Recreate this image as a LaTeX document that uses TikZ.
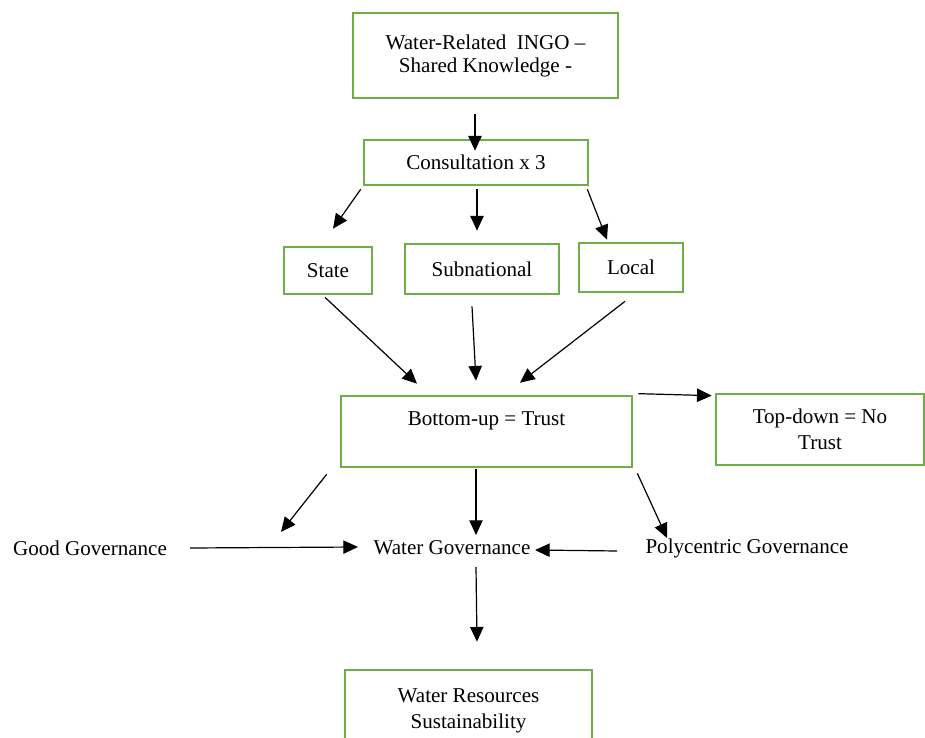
\documentclass[tikz,border=0pt]{standalone}
\usepackage{fontspec}
\setmainfont{Liberation Serif}
\usetikzlibrary{arrows.meta}
\begin{document}
\begin{tikzpicture}[x=0.75pt,y=-0.75pt,
  box/.style={draw=boxgreen,line width=2pt,align=center,inner sep=0pt,font=\fontsize{15.8pt}{19.5pt}\selectfont},
  plain/.style={align=center,inner sep=0pt,font=\fontsize{15.8pt}{19.5pt}\selectfont},
  arr/.style={line width=0.9pt,-{Triangle[length=11pt,width=10pt]}}]
\definecolor{boxgreen}{HTML}{70AD47}
\useasboundingbox (0,0) rectangle (925,738);

% boxes
\node[box,minimum width=198.75pt,minimum height=63.75pt] (top) at (485.5,55.5)
  {\raisebox{3pt}{\begin{tabular}{@{}c@{}}Water-Related\ \ INGO –\\[-2pt]Shared Knowledge -\end{tabular}}};
\node[box,minimum width=168pt,minimum height=33.75pt] (cons) at (476,162.5) {Consultation x 3};
\node[box,minimum width=66pt,minimum height=35.25pt] (state) at (328,270.5) {State};
\node[box,minimum width=115.5pt,minimum height=37.5pt] (sub) at (482,269) {Subnational};
\node[box,minimum width=78pt,minimum height=36.75pt] (local) at (631,267.5) {Local};
\node[box,minimum width=218.25pt,minimum height=53.25pt] (bu) at (486.5,431.5) {Bottom-up = Trust\\[0pt]\mbox{}};
\node[box,minimum width=156pt,minimum height=53.25pt] (td) at (820,429.5) {Top-down = No\\Trust};
\node[plain] (gg) at (90,548) {Good Governance};
\node[plain] (wg) at (452,548) {Water Governance};
\node[plain] (pg) at (747,548) {Polycentric Governance};
\node[box,minimum width=185.25pt,minimum height=61.5pt] (wrs) at (468.5,711) {Water Resources\\Sustainability};

% connectors
\draw[arr] ([shift={(-10.5,15)}]top.south) -- ([shift={(-1,12)}]cons.north);
\draw[arr] ([shift={(-2,3)}]cons.south west) -- ([shift={(5,-17)}]state.north);
\draw[arr] ([shift={(1,3)}]cons.south) -- ([shift={(-5,-12)}]sub.north);
\draw[arr] ([shift={(-2,3)}]cons.south east) -- ([shift={(-24,-2)}]local.north);
\draw[arr] ([shift={(-3,2)}]state.south) -- ([shift={(-69.5,-11)}]bu.north);
\draw[arr] ([shift={(-10,11)}]sub.south) -- ([shift={(-10.5,-14)}]bu.north);
\draw[arr] ([shift={(-6,8)}]local.south) -- ([shift={(33.5,-12)}]bu.north);
\draw[arr] ([shift={(5,-1)}]bu.north east) -- ([shift={(-3,3)}]td.north west);
\draw[arr] ([shift={(-13,6)}]bu.south west) -- ([shift={(191,-16)}]gg.center);
\draw[arr] ([shift={(-10.5,1)}]bu.south) -- ([shift={(24,-13)}]wg.center);
\draw[arr] ([shift={(4,5)}]bu.south east) -- ([shift={(-80,-10)}]pg.center);
\draw[arr] ([shift={(100,0)}]gg.center) -- ([shift={(-94,-1)}]wg.center);
\draw[arr] ([shift={(-130,3)}]pg.center) -- ([shift={(83,2)}]wg.center);
\draw[arr] ([shift={(24,19)}]wg.center) -- ([shift={(8.5,-27)}]wrs.north);
\end{tikzpicture}
\end{document}
